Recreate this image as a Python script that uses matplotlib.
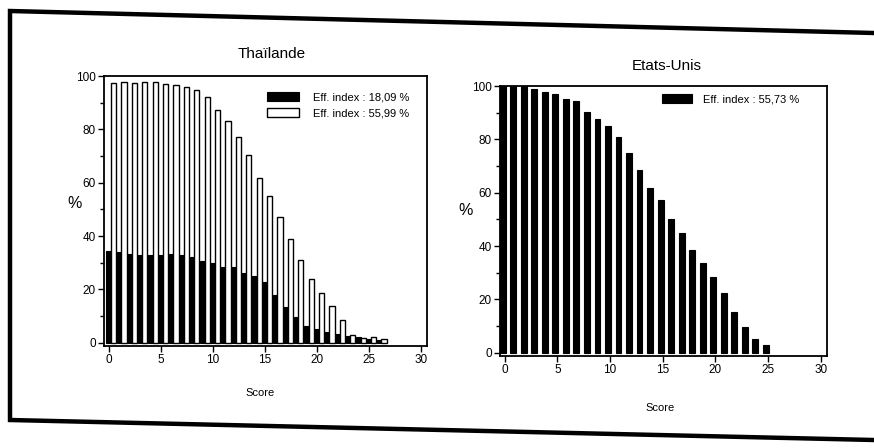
import matplotlib
matplotlib.use('Agg')
import matplotlib.pyplot as plt
from matplotlib.lines import Line2D
from matplotlib.patches import Patch
from matplotlib.ticker import MultipleLocator

plt.rcParams['font.family'] = ['Liberation Sans Narrow', 'Liberation Sans', 'DejaVu Sans']

# ---------------- data ----------------
scores_th = list(range(27))
th_low = [34.3, 34.0, 33.3, 33.0, 32.9, 33.0, 33.1, 32.9, 32.0, 30.5, 30.0, 28.4, 28.5,
          26.3, 24.9, 22.8, 17.9, 13.5, 9.6, 6.2, 5.0, 4.0, 3.2, 2.5, 2.0, 1.3, 1.0]
th_high = [97.5, 97.6, 97.5, 97.7, 97.8, 96.9, 96.8, 95.9, 94.8, 92.3, 87.4, 83.3, 77.2,
           70.3, 61.7, 55.0, 47.3, 38.8, 31.0, 24.0, 18.7, 13.8, 8.4, 3.0, 1.8, 2.1, 1.3]

scores_us = list(range(26))
us_vals = [100, 100, 100, 98.8, 97.9, 97.0, 95.0, 94.2, 90.2, 87.6, 84.9, 80.7, 74.8,
           68.6, 61.9, 57.4, 50.0, 44.8, 38.6, 33.5, 28.5, 22.5, 15.2, 9.5, 5.2, 2.9]

title_th = 'Thaïlande'
title_us = 'Etats-Unis'
leg_th = ['Eff. index : 18,09 %', 'Eff. index : 55,99 %']
leg_us = ['Eff. index : 55,73 %']
xticks = [0, 5, 10, 15, 20, 25, 30]
yticks = [0, 20, 40, 60, 80, 100]

W, H = 874, 448
fig = plt.figure(figsize=(W / 100, H / 100), dpi=100)
fig.patch.set_facecolor('white')

# outer (slightly skewed, scanned) frame
def px(x, y):
    return x / W, 1 - y / H
frame_pts = [(874, 33), (10, 11), (10, 420), (874, 440)]
xs = [px(*p)[0] for p in frame_pts]
ys = [px(*p)[1] for p in frame_pts]
fig.add_artist(Line2D(xs, ys, transform=fig.transFigure, color='black', lw=3.2,
                      solid_joinstyle='miter'))

ax1 = fig.add_axes([104 / W, 1 - 346 / H, 323 / W, 270 / H])
ax2 = fig.add_axes([500 / W, 1 - 356 / H, 327 / W, 270 / H])

# Thailand: black + white bar per score
ax1.bar([s for s in scores_th], th_low, width=0.45, color='black', edgecolor='black',
        linewidth=0.8, zorder=3)
ax1.bar([s + 0.475 for s in scores_th], th_high, width=0.5, color='white',
        edgecolor='black', linewidth=1.0, zorder=3)

# USA
ax2.bar([s - 0.2 for s in scores_us], us_vals, width=0.55, color='black',
        edgecolor='black', linewidth=0.8, zorder=3)

for ax in (ax1, ax2):
    ax.set_xlim(-0.45, 30.6)
    ax.set_ylim(-1.2, 100)
    ax.set_xticks(xticks)
    ax.set_yticks(yticks)
    ax.yaxis.set_minor_locator(MultipleLocator(10))
    ax.tick_params(axis='both', which='major', direction='out', length=4, width=1.0,
                   labelsize=8.5, pad=2)
    ax.tick_params(axis='y', which='minor', direction='out', length=3, width=1.0)
    for sp in ax.spines.values():
        sp.set_linewidth(1.3)
        sp.set_color('black')

ax1.set_title(title_th, fontsize=11, x=0.52, y=1.035)
ax2.set_title(title_us, fontsize=11, x=0.51, y=1.03)

ax1.set_ylabel('%', rotation=0, fontsize=11.5)
ax1.yaxis.set_label_coords(-0.09, 0.5)
ax2.set_ylabel('%', rotation=0, fontsize=11.5)
ax2.yaxis.set_label_coords(-0.105, 0.51)

ax1.set_xlabel('Score', fontsize=8)
ax1.xaxis.set_label_coords(0.483, -0.155)
ax2.set_xlabel('Score', fontsize=8)
ax2.xaxis.set_label_coords(0.49, -0.175)

h1 = [Patch(facecolor='black', edgecolor='black', lw=0.8),
      Patch(facecolor='white', edgecolor='black', lw=1.0)]
ax1.legend(h1, leg_th, loc='upper left', bbox_to_anchor=(0.505, 0.94), frameon=False,
           fontsize=8, handlelength=2.9, handleheight=0.85, handletextpad=1.2,
           labelspacing=0.5, borderpad=0, borderaxespad=0)
h2 = [Patch(facecolor='black', edgecolor='black', lw=0.8)]
ax2.legend(h2, leg_us, loc='upper left', bbox_to_anchor=(0.496, 0.97), frameon=False,
           fontsize=8, handlelength=2.7, handleheight=0.85, handletextpad=1.0,
           borderpad=0, borderaxespad=0)

fig.savefig('out.png', dpi=100, facecolor='white')
